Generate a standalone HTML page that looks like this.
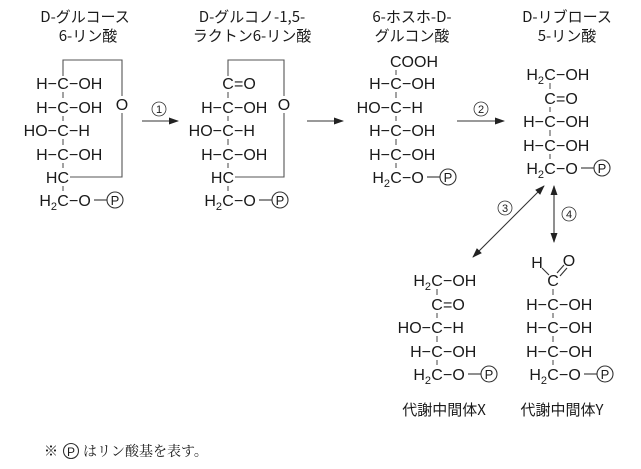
<!DOCTYPE html>
<html><head><meta charset="utf-8"><style>
body{margin:0;background:#fff;width:641px;height:469px;overflow:hidden}
svg{display:block}
text{font-family:"Liberation Sans","Noto Sans CJK JP",sans-serif;font-size:16px;fill:#1a1a1a}
.l{text-anchor:end}.m{text-anchor:middle}.s{text-anchor:start}
.t{font-family:"Noto Sans CJK JP","Liberation Sans",sans-serif;font-size:15px;text-anchor:middle}
.sub{font-size:11px}
line,polyline,path{stroke:#333;stroke-width:1.1;fill:none}
.b{stroke:#555}
circle{stroke:#333;stroke-width:1.1;fill:none}
.n{font-size:11px;text-anchor:middle}
</style></head><body>
<svg width="641" height="469" viewBox="0 0 641 469">
<defs><marker id="a" markerWidth="10" markerHeight="8" refX="9" refY="4" orient="auto" markerUnits="userSpaceOnUse"><path d="M0,0.5 L10,4 L0,7.5 Z" style="fill:#222;stroke:none"/></marker>
<marker id="as" markerWidth="10" markerHeight="8" refX="1" refY="4" orient="auto" markerUnits="userSpaceOnUse"><path d="M10,0.5 L0,4 L10,7.5 Z" style="fill:#222;stroke:none"/></marker></defs>

<text class="t" x="85" y="22">D-グルコース</text><text class="t" x="88" y="41">6-リン酸</text>
<text class="t" x="252" y="22">D-グルコノ-1,5-</text><text class="t" x="252" y="41">ラクトン6-リン酸</text>
<text class="t" x="412" y="22">6-ホスホ-D-</text><text class="t" x="412" y="41">グルコン酸</text>
<text class="t" x="567" y="22">D-リブロース</text><text class="t" x="567" y="41">5-リン酸</text>

<g>
<text class="l" x="57" y="89">H−</text><text class="m" x="63" y="89">C</text><text class="s" x="69" y="89">−OH</text>
<text class="l" x="57" y="113">H−</text><text class="m" x="63" y="113">C</text><text class="s" x="69" y="113">−OH</text>
<text class="l" x="57" y="136">HO−</text><text class="m" x="63" y="136">C</text><text class="s" x="69" y="136">−H</text>
<text class="l" x="57" y="160">H−</text><text class="m" x="63" y="160">C</text><text class="s" x="69" y="160">−OH</text>
<text class="l" x="69" y="183">HC</text>
<text class="l" x="57" y="206">H<tspan class="sub" dy="4">2</tspan></text><text class="m" x="63" y="206">C</text><text class="s" x="69" y="206">−O</text>
<line x1="94" y1="200" x2="107" y2="200"/>
<circle cx="115" cy="200" r="8"/><text class="m" x="115" y="205" style="font-size:13px">P</text>
<polyline class="b" points="63,76 63,60 122,60 122,96"/><text class="m" x="122" y="110">O</text>
<polyline class="b" points="122,113 122,177 70,177"/>
<line class="b" x1="63" y1="92" x2="63" y2="98"/><line class="b" x1="63" y1="116" x2="63" y2="121"/><line class="b" x1="63" y1="139" x2="63" y2="145"/><line class="b" x1="63" y1="163" x2="63" y2="168"/><line class="b" x1="63" y1="186" x2="63" y2="191"/>
</g>
<line x1="142" y1="121" x2="178" y2="121" marker-end="url(#a)"/>
<circle cx="159" cy="109" r="7" style="stroke-width:.8"/><text class="n" x="159" y="113">1</text>

<g>
<text class="m" x="228" y="89">C</text><text class="s" x="234" y="89">=O</text>
<text class="l" x="222" y="113">H−</text><text class="m" x="228" y="113">C</text><text class="s" x="234" y="113">−OH</text>
<text class="l" x="222" y="136">HO−</text><text class="m" x="228" y="136">C</text><text class="s" x="234" y="136">−H</text>
<text class="l" x="222" y="160">H−</text><text class="m" x="228" y="160">C</text><text class="s" x="234" y="160">−OH</text>
<text class="l" x="234" y="183">HC</text>
<text class="l" x="222" y="206">H<tspan class="sub" dy="4">2</tspan></text><text class="m" x="228" y="206">C</text><text class="s" x="234" y="206">−O</text>
<line x1="259" y1="200" x2="272" y2="200"/>
<circle cx="280" cy="200" r="8"/><text class="m" x="280" y="205" style="font-size:13px">P</text>
<polyline class="b" points="228,76 228,60 284,60 284,96"/><text class="m" x="284" y="110">O</text>
<polyline class="b" points="284,113 284,177 235,177"/>
<line class="b" x1="228" y1="92" x2="228" y2="98"/><line class="b" x1="228" y1="116" x2="228" y2="121"/><line class="b" x1="228" y1="139" x2="228" y2="145"/><line class="b" x1="228" y1="163" x2="228" y2="168"/><line class="b" x1="228" y1="186" x2="228" y2="191"/>
</g>
<line x1="307" y1="121" x2="343" y2="121" marker-end="url(#a)"/>

<g>
<text class="s" x="390" y="67">COOH</text>
<text class="l" x="390" y="89">H−</text><text class="m" x="396" y="89">C</text><text class="s" x="402" y="89">−OH</text>
<text class="l" x="390" y="113">HO−</text><text class="m" x="396" y="113">C</text><text class="s" x="402" y="113">−H</text>
<text class="l" x="390" y="136">H−</text><text class="m" x="396" y="136">C</text><text class="s" x="402" y="136">−OH</text>
<text class="l" x="390" y="160">H−</text><text class="m" x="396" y="160">C</text><text class="s" x="402" y="160">−OH</text>
<text class="l" x="390" y="183">H<tspan class="sub" dy="4">2</tspan></text><text class="m" x="396" y="183">C</text><text class="s" x="402" y="183">−O</text>
<line x1="427" y1="177" x2="440" y2="177"/>
<circle cx="448" cy="177" r="8"/><text class="m" x="448" y="182" style="font-size:13px">P</text>
<line class="b" x1="396" y1="70" x2="396" y2="75"/><line class="b" x1="396" y1="92" x2="396" y2="98"/><line class="b" x1="396" y1="116" x2="396" y2="121"/><line class="b" x1="396" y1="139" x2="396" y2="145"/><line class="b" x1="396" y1="163" x2="396" y2="168"/>
</g>
<line x1="457" y1="121" x2="504" y2="121" marker-end="url(#a)"/>
<circle cx="481" cy="109" r="7" style="stroke-width:.8"/><text class="n" x="481" y="113">2</text>

<g>
<text class="l" x="544" y="80">H<tspan class="sub" dy="4">2</tspan></text><text class="m" x="550" y="80">C</text><text class="s" x="556" y="80">−OH</text>
<text class="m" x="550" y="104">C</text><text class="s" x="556" y="104">=O</text>
<text class="l" x="544" y="127">H−</text><text class="m" x="550" y="127">C</text><text class="s" x="556" y="127">−OH</text>
<text class="l" x="544" y="151">H−</text><text class="m" x="550" y="151">C</text><text class="s" x="556" y="151">−OH</text>
<text class="l" x="544" y="174">H<tspan class="sub" dy="4">2</tspan></text><text class="m" x="550" y="174">C</text><text class="s" x="556" y="174">−O</text>
<line x1="581" y1="168" x2="594" y2="168"/>
<circle cx="602" cy="168" r="8"/><text class="m" x="602" y="173" style="font-size:13px">P</text>
<line class="b" x1="550" y1="83" x2="550" y2="89"/><line class="b" x1="550" y1="107" x2="550" y2="112"/><line class="b" x1="550" y1="130" x2="550" y2="136"/><line class="b" x1="550" y1="154" x2="550" y2="159"/>
</g>

<line x1="544" y1="186" x2="473" y2="257" marker-end="url(#a)" marker-start="url(#as)"/>
<circle cx="505" cy="208" r="7" style="stroke-width:.8"/><text class="n" x="505" y="212">3</text>
<line x1="554" y1="186" x2="554" y2="242" marker-end="url(#a)" marker-start="url(#as)"/>
<circle cx="569" cy="214" r="7" style="stroke-width:.8"/><text class="n" x="569" y="218">4</text>

<g>
<text class="l" x="431" y="286">H<tspan class="sub" dy="4">2</tspan></text><text class="m" x="437" y="286">C</text><text class="s" x="443" y="286">−OH</text>
<text class="m" x="437" y="310">C</text><text class="s" x="443" y="310">=O</text>
<text class="l" x="431" y="333">HO−</text><text class="m" x="437" y="333">C</text><text class="s" x="443" y="333">−H</text>
<text class="l" x="431" y="357">H−</text><text class="m" x="437" y="357">C</text><text class="s" x="443" y="357">−OH</text>
<text class="l" x="431" y="380">H<tspan class="sub" dy="4">2</tspan></text><text class="m" x="437" y="380">C</text><text class="s" x="443" y="380">−O</text>
<line x1="468" y1="374" x2="481" y2="374"/>
<circle cx="489" cy="374" r="8"/><text class="m" x="489" y="379" style="font-size:13px">P</text>
<line class="b" x1="437" y1="289" x2="437" y2="295"/><line class="b" x1="437" y1="313" x2="437" y2="318"/><line class="b" x1="437" y1="336" x2="437" y2="342"/><line class="b" x1="437" y1="360" x2="437" y2="365"/>
</g>
<text class="t" x="444" y="415">代謝中間体X</text>

<g>
<text class="m" x="537" y="268">H</text><text class="m" x="569" y="266">O</text>
<line x1="542" y1="268" x2="549" y2="275"/><line x1="557" y1="273" x2="564" y2="265"/><line x1="560" y1="276" x2="567" y2="268"/>
<text class="m" x="553" y="286">C</text>
<text class="l" x="547" y="310">H−</text><text class="m" x="553" y="310">C</text><text class="s" x="559" y="310">−OH</text>
<text class="l" x="547" y="333">H−</text><text class="m" x="553" y="333">C</text><text class="s" x="559" y="333">−OH</text>
<text class="l" x="547" y="357">H−</text><text class="m" x="553" y="357">C</text><text class="s" x="559" y="357">−OH</text>
<text class="l" x="547" y="380">H<tspan class="sub" dy="4">2</tspan></text><text class="m" x="553" y="380">C</text><text class="s" x="559" y="380">−O</text>
<line x1="584" y1="374" x2="597" y2="374"/>
<circle cx="605" cy="374" r="8"/><text class="m" x="605" y="379" style="font-size:13px">P</text>
<line class="b" x1="553" y1="289" x2="553" y2="295"/><line class="b" x1="553" y1="313" x2="553" y2="318"/><line class="b" x1="553" y1="336" x2="553" y2="342"/><line class="b" x1="553" y1="360" x2="553" y2="365"/>
</g>
<text class="t" x="562" y="415">代謝中間体Y</text>

<text x="44" y="456" style="font-family:'Liberation Serif','Noto Serif CJK SC',serif;font-size:14px">※</text>
<circle cx="71" cy="451" r="7.5"/><text class="m" x="71" y="456" style="font-size:12px">P</text>
<text x="83" y="456" style="font-family:'Liberation Serif','Noto Serif CJK SC',serif;font-size:14px">はリン酸基を表す。</text>
</svg>
</body></html>
